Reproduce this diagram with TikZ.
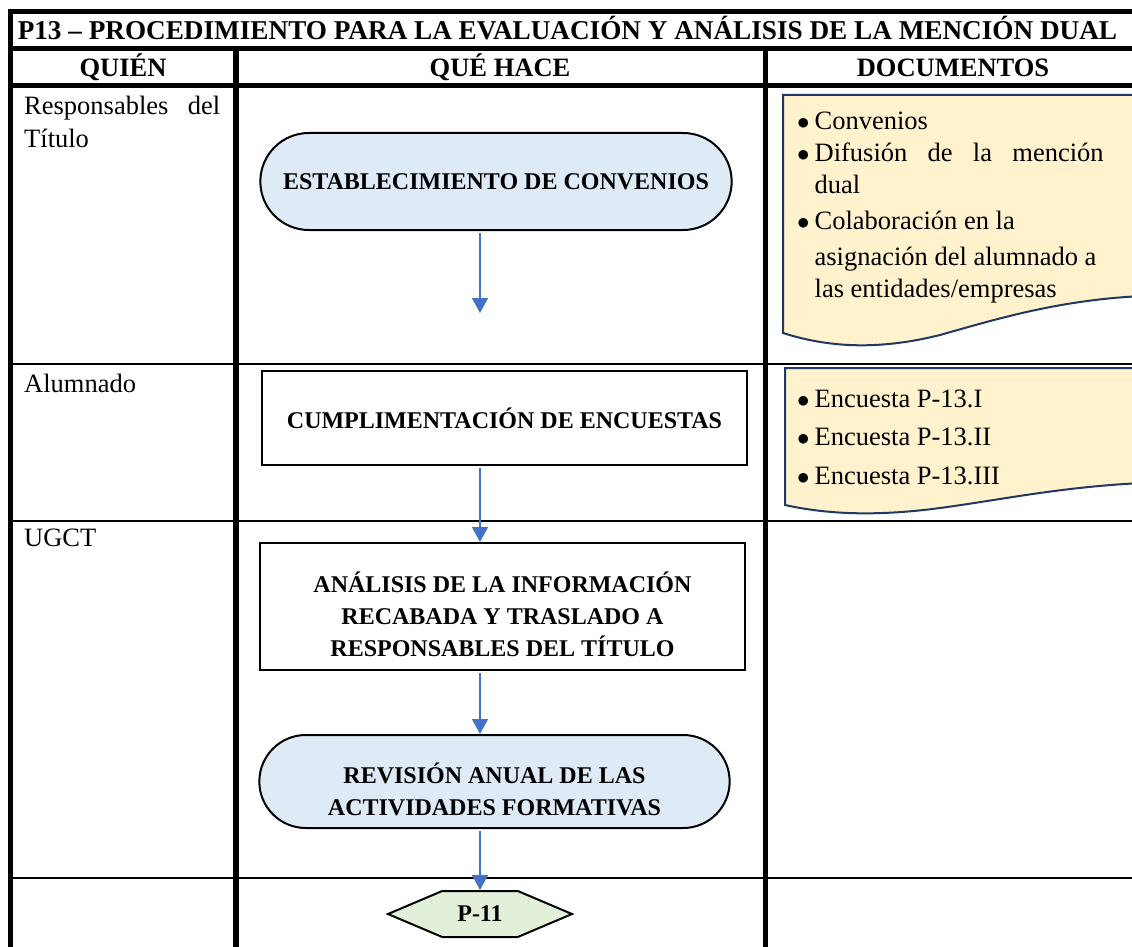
\documentclass[tikz,border=0pt]{standalone}
\usepackage{fontspec}
\setmainfont{Liberation Serif}
\usetikzlibrary{positioning, arrows.meta, shapes.misc, shapes.symbols}

\definecolor{procblue}{HTML}{DEEAF6}
\definecolor{docyellow}{HTML}{FFF2CC}
\definecolor{docline}{HTML}{1F3864}
\definecolor{flowblue}{HTML}{4472C4}
\definecolor{endgreen}{HTML}{E2EFD9}

\newcommand{\docitem}{{\fontsize{34}{28}\selectfont$\bullet$}}
\newcommand{\lowtext}{\rule{0pt}{36pt}}

\tikzset{
    head/.style={anchor=base, inner sep=0, font=\bfseries\fontsize{26.5}{30}\selectfont},
    lane/.style={anchor=north west, inner sep=0, align=justify,
        text width=196, font=\fontsize{26.5}{33}\selectfont},
    term/.style={draw, line width=2, rounded rectangle, fill=procblue,
        align=center, font=\bfseries\fontsize{24}{32}\selectfont},
    task/.style={draw, line width=2, rectangle, fill=white,
        align=center, font=\bfseries\fontsize{24}{32}\selectfont},
    doctext/.style={anchor=base west, inner sep=0,
        font=\fontsize{26.5}{28}\selectfont},
    docbox/.style={draw=docline, line width=2, fill=docyellow},
    flow/.style={->, draw=flowblue, line width=1.5, shorten <=2},
}

\begin{document}
\begin{tikzpicture}[x=1pt, y=-1pt, > = {Triangle[width=16pt, length=15pt]}]
    \useasboundingbox (0,0) rectangle (1132,947);

    % cuadro
    \draw [line width=5] (1140,12) -- (10,12) -- (10,950);
    \draw [line width=5] (10,49) -- (1140,49);
    \draw [line width=5] (10,86) -- (1140,86);
    \draw [line width=6] (236,49) -- (236,950);
    \draw [line width=5] (765,49) -- (765,950);
    \draw [line width=1.5] (10,364) -- (1140,364);
    \draw [line width=1.5] (10,521) -- (1140,521);
    \draw [line width=1.5] (10,878) -- (1140,878);

    % cabecera
    \node [head, font=\bfseries\fontsize{27.2}{30}\selectfont] (title) at (567.5,40)
        {P13 -- PROCEDIMIENTO PARA LA EVALUACIÓN Y ANÁLISIS DE LA MENCIÓN DUAL};
    \node [head] (quien) at (123,77) {QUIÉN};
    \node [head] (quehace) at (500,77) {QUÉ HACE};
    \node [head] (docs) at (953,77) {DOCUMENTOS};

    % quien
    \node [lane] (resp) at (24,96) {Responsables del Título};
    \node [lane] (alum) at (24,374) {Alumnado};
    \node [lane] (ugct) at (24,529) {UGCT};

    % que hace
    \node [term,
        minimum width=478,
        minimum height=97
    ] (establ) at (496,181.5) {ESTABLECIMIENTO DE CONVENIOS};

    \node [task,
        minimum width=485,
        minimum height=94
    ] (cumpl) at (504.5,418) {CUMPLIMENTACIÓN DE ENCUESTAS};

    \node [task,
        minimum width=485,
        minimum height=127
    ] (anal) at (502.5,606.5) {\lowtext ANÁLISIS DE LA INFORMACIÓN\\
        RECABADA Y TRASLADO A\\
        RESPONSABLES DEL TÍTULO};

    \node [term,
        minimum width=477,
        minimum height=93
    ] (revis) at (494.5,781.5) {\lowtext REVISIÓN ANUAL DE LAS\\
        ACTIVIDADES FORMATIVAS};

    \node [draw, line width=2,
        signal, signal to=east and west,
        signal pointer angle=46,
        fill=endgreen,
        minimum width=184,
        minimum height=46,
        inner sep=0,
        font=\bfseries\fontsize{24}{28}\selectfont
    ] (p11) at (480,914) {P-11};

    \coordinate (gap) at (480,313);

    % flechas
    \draw [flow] (establ.south -| p11) -- (gap);
    \draw [flow] (cumpl.south -| p11) -- (anal.north -| p11);
    \draw [flow] (anal.south -| p11) -- (revis.north -| p11);
    \draw [flow] (revis.south -| p11) -- (p11.north);

    % documentos
    \draw [docbox] (783,333) -- (783,95) -- (1142,95) -- (1142,296)
        .. controls (1060,300) and (1000,318) .. (940,335)
        .. controls (880,350) and (830,348) .. cycle;
    \draw [docbox] (785,505) -- (785,368) -- (1142,368) -- (1142,483)
        .. controls (1060,487) and (1000,500) .. (940,508)
        .. controls (880,516) and (830,515) .. cycle;

    \node [doctext] (docsA) at (797,130) {%
        \begin{tabular}[t]{@{}l@{\hspace{5pt}}l@{}}
            \docitem & Convenios\\[4pt]
            \docitem & \makebox[289pt][s]{Difusión de la mención}\\[3pt]
            & dual\\[9pt]
            \docitem & Colaboración en la\\[7pt]
            & asignación del alumnado a\\[5pt]
            & las entidades/empresas
        \end{tabular}};

    \node [doctext] (docsB) at (797,407) {%
        \begin{tabular}[t]{@{}l@{\hspace{5pt}}l@{}}
            \docitem & Encuesta P-13.I\\[10.5pt]
            \docitem & Encuesta P-13.II\\[10.5pt]
            \docitem & Encuesta P-13.III
        \end{tabular}};
\end{tikzpicture}
\end{document}
